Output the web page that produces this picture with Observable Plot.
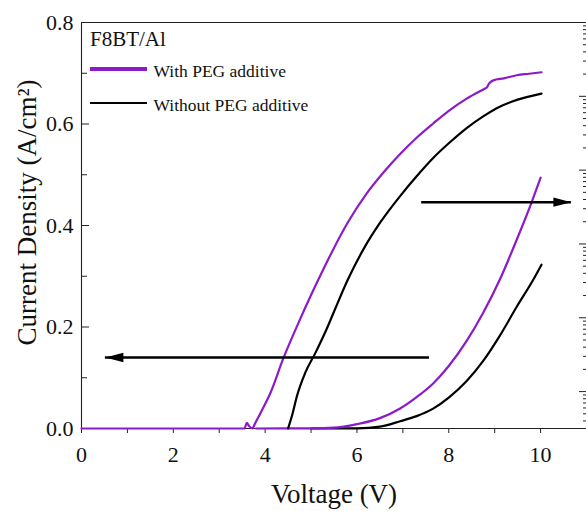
<!DOCTYPE html>
<html>
<head>
<meta charset="utf-8">
<script src="https://cdn.jsdelivr.net/npm/d3@7"></script>
<script src="https://cdn.jsdelivr.net/npm/@observablehq/plot@0.6"></script>
<style>
  body { margin: 0; background: #fff; }
  #chart { position: relative; width: 586px; height: 511px; font-family: "Liberation Serif", "Times New Roman", serif; color: #111; }
  #chart svg { position: absolute; left: 0; top: 0; }
  #chart svg, #chart svg text { font-family: "Liberation Serif", "Times New Roman", serif !important; }
  .note { position: absolute; white-space: nowrap; line-height: 1; }
  .swatch { position: absolute; }
</style>
</head>
<body>
<div id="chart"></div>
<script>
// Current density (A/cm²) against voltage (V), F8BT/Al devices
const vJWith = [0, 3.55, 3.6, 3.65, 3.72, 3.78, 3.84, 3.93, 4.11, 4.4, 4.76, 5.0, 5.2, 5.45, 5.8, 6.21, 6.6, 6.94, 7.3, 7.66, 8.0, 8.39, 8.79, 8.83, 8.88, 8.97, 9.2, 9.48, 9.75, 10.02];
const jWith  = [0, 0, 0.011, 0.005, 0, 0.01, 0.02, 0.036, 0.069, 0.139, 0.215, 0.263, 0.301, 0.347, 0.406, 0.463, 0.507, 0.541, 0.573, 0.601, 0.626, 0.65, 0.67, 0.672, 0.68, 0.686, 0.69, 0.696, 0.699, 0.702];
const vJWithout = [4.5, 4.6, 4.69, 4.87, 5.09, 5.34, 5.49, 5.8, 6.14, 6.5, 6.94, 7.3, 7.66, 8.0, 8.39, 8.75, 9.11, 9.5, 10.02];
const jWithout  = [0, 0.03, 0.063, 0.109, 0.148, 0.196, 0.228, 0.293, 0.353, 0.405, 0.458, 0.497, 0.533, 0.562, 0.592, 0.615, 0.634, 0.648, 0.66];

// Luminance (cd/m²) against voltage (V), read on the logarithmic right axis
const vLWith = [3.8, 5.0, 5.5, 6.0, 6.5, 6.94, 7.3, 7.66, 8.0, 8.39, 8.75, 9.11, 9.48, 9.8, 10.0];
const lWith  = [0.3163, 0.318, 0.324, 0.362, 0.437, 0.591, 0.842, 1.29, 2.22, 4.86, 11.7, 32.7, 114, 361, 789];
const vLWithout = [5.0, 6.0, 6.5, 6.94, 7.3, 7.66, 8.0, 8.39, 8.75, 9.11, 9.48, 9.84, 10.02];
const lWithout  = [0.3163, 0.318, 0.335, 0.397, 0.465, 0.588, 0.829, 1.39, 2.6, 5.68, 14.1, 32.7, 52.3];

// Axes
const xTickLabels = [0, 2, 4, 6, 8, 10];
const xMinorTicks = [1, 3, 5, 7, 9, 11];
const yTickLabels = [0, 0.2, 0.4, 0.6, 0.8];
const yMinorTicks = [0.1, 0.3, 0.5, 0.7];
const lumDomain = [Math.pow(10, -0.5), 1e5];
const lumDecades = [1, 10, 100, 1000, 10000, 100000];
const xTitle = "Voltage (V)";
const yTitle = "Current Density (A/cm²)";

// Legend
const deviceLabel = "F8BT/Al";
const seriesNames = ["With PEG additive", "Without PEG additive"];
const seriesColors = ["#8c1ac8", "#000000"];

// Arrows pointing each curve pair to its axis
const arrows = [
  {from: 7.58, to: 0.52, level: 0.14},
  {from: 7.41, to: 10.67, level: 0.446}
];

const AXIS = "#222";
const FONT = '"Liberation Serif", "Times New Roman", serif';

// Luminance is drawn on the shared y scale through a log mapping onto [0, 0.8]
const lumToJ = d3.scaleLog().domain(lumDomain).range([0, 0.8]).clamp(true);
const lumMinor = d3.scaleLog().domain(lumDomain).ticks().filter(t => !lumDecades.includes(t));

const pairs = (xs, ys, key) => xs.map((v, i) => ({V: v, [key]: ys[i]}));
const jWithData = pairs(vJWith, jWith, "J");
const jWithoutData = pairs(vJWithout, jWithout, "J");
const lWithData = pairs(vLWith, lWith, "L");
const lWithoutData = pairs(vLWithout, lWithout, "L");

// Filled, elongated arrowhead with its tip at the origin, pointing to +x
const arrowHead = {
  draw(ctx) {
    ctx.moveTo(0, 0);
    ctx.lineTo(-18, -4.7);
    ctx.lineTo(-18, 4.7);
    ctx.closePath();
  }
};

const plot = Plot.plot({
  width: 586,
  height: 511,
  marginLeft: 81,
  marginRight: 0,
  marginTop: 22,
  marginBottom: 83,
  x: {domain: [0, 11]},
  y: {domain: [0, 0.8]},
  style: {fontFamily: FONT, fontSize: "22px", color: "#111", background: "transparent"},
  marks: [
    // frame: bottom, top and left
    Plot.ruleY([0, 0.8], {stroke: AXIS, strokeWidth: 1.1}),
    Plot.ruleX([0], {stroke: AXIS, strokeWidth: 1.1}),
    // x axis
    Plot.axisX(xTickLabels, {tickSize: 5, fill: "none", stroke: AXIS, label: null}),
    Plot.axisX(xMinorTicks, {tickSize: 5, fill: "none", stroke: AXIS, label: null}),
    Plot.axisX(xTickLabels, {tickSize: 0, tickPadding: 18, fontSize: 22, fontFamily: FONT, fill: "#111", label: null, tickFormat: d => String(d)}),
    // left y axis (ticks inward)
    Plot.axisY(yTickLabels, {tickSize: 8, insetLeft: 8, fill: "none", stroke: AXIS, label: null}),
    Plot.axisY(yMinorTicks, {tickSize: 6, insetLeft: 6, fill: "none", stroke: AXIS, label: null}),
    Plot.axisY(yTickLabels, {tickSize: 0, tickPadding: 8, fontSize: 22, fontFamily: FONT, fill: "#111", label: null, tickFormat: d3.format(".1f")}),
    // right log axis for luminance (ticks inward)
    Plot.axisY(lumDecades.map(lumToJ), {anchor: "right", tickSize: 8, insetRight: 8, fill: "none", stroke: AXIS, label: null}),
    Plot.axisY(lumMinor.map(lumToJ), {anchor: "right", tickSize: 4, insetRight: 4, fill: "none", stroke: AXIS, label: null}),
    // axis titles
    Plot.text([xTitle], {text: d => d, frameAnchor: "bottom", textAnchor: "middle", lineAnchor: "middle", dy: 66, fontSize: 27, fontFamily: FONT, fill: "#111"}),
    Plot.text([yTitle], {text: d => d, frameAnchor: "left", textAnchor: "middle", lineAnchor: "middle", rotate: -90, dx: -54, dy: -13, fontSize: 27, fontFamily: FONT, fill: "#111"}),
    // luminance curves
    Plot.line(lWithoutData, {x: "V", y: d => lumToJ(d.L), stroke: seriesColors[1], strokeWidth: 2.2, curve: "monotone-x"}),
    Plot.line(lWithData, {x: "V", y: d => lumToJ(d.L), stroke: seriesColors[0], strokeWidth: 2.2, curve: "monotone-x"}),
    // current density curves
    Plot.line(jWithoutData, {x: "V", y: "J", stroke: seriesColors[1], strokeWidth: 2.2, curve: "monotone-x"}),
    Plot.line(jWithData, {x: "V", y: "J", stroke: seriesColors[0], strokeWidth: 2.2, curve: "monotone-x"}),
    // arrows
    Plot.ruleY(arrows, {y: "level", x1: "from", x2: "to", stroke: "#000", strokeWidth: 2.5}),
    Plot.dot(arrows, {x: "to", y: "level", symbol: arrowHead, rotate: d => (d.to < d.from ? 180 : 0), fill: "#000", stroke: "none", r: 5})
  ]
});

const chart = document.getElementById("chart");
chart.appendChild(plot);

// In-plot legend and device label
function addNote(text, left, top, size) {
  const el = document.createElement("div");
  el.className = "note";
  el.textContent = text;
  el.style.left = left + "px";
  el.style.top = top + "px";
  el.style.fontSize = size + "px";
  chart.appendChild(el);
}
function addSwatch(color, left, top, w, h) {
  const el = document.createElement("div");
  el.className = "swatch";
  el.style.background = color;
  el.style.left = left + "px";
  el.style.top = top + "px";
  el.style.width = w + "px";
  el.style.height = h + "px";
  chart.appendChild(el);
}
addNote(deviceLabel, 90, 28.5, 21);
addSwatch(seriesColors[0], 90, 67.3, 57, 3.4);
addNote(seriesNames[0], 153.5, 63, 17.5);
addSwatch(seriesColors[1], 90, 102.3, 57, 2.2);
addNote(seriesNames[1], 153.5, 96.8, 17.5);
</script>
</body>
</html>
